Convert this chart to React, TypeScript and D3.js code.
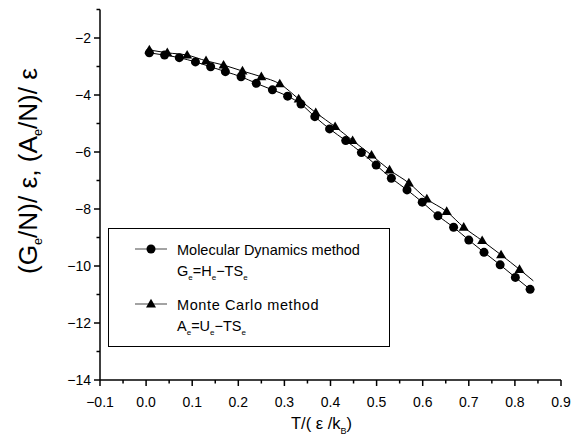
import React from "react";
import * as d3 from "d3";

// Molecular Dynamics (circles): T, G/N
const mdT = [0.007, 0.040, 0.072, 0.107, 0.140, 0.172, 0.206, 0.239, 0.274, 0.307, 0.336, 0.366, 0.398, 0.433, 0.467, 0.499, 0.532, 0.566, 0.599, 0.633, 0.667, 0.700, 0.733, 0.768, 0.801, 0.833];
const mdV = [-2.52, -2.60, -2.69, -2.84, -3.01, -3.18, -3.36, -3.59, -3.82, -4.04, -4.32, -4.76, -5.19, -5.60, -6.02, -6.46, -6.92, -7.33, -7.76, -8.24, -8.64, -9.09, -9.52, -9.96, -10.40, -10.82];
// Monte Carlo (triangles): T, A/N
const mcT = [0.007, 0.046, 0.089, 0.130, 0.168, 0.209, 0.250, 0.290, 0.331, 0.368, 0.410, 0.448, 0.489, 0.528, 0.570, 0.609, 0.652, 0.689, 0.729, 0.770, 0.810];
const mcV = [-2.42, -2.52, -2.60, -2.80, -2.95, -3.16, -3.36, -3.61, -4.14, -4.62, -5.11, -5.60, -6.11, -6.63, -7.09, -7.65, -8.09, -8.64, -9.11, -9.61, -10.12];
// end of the Monte Carlo curve (extends past the last marker)
const mcLineEndT = [0.840];
const mcLineEndV = [-10.52];

const xMajor = [-0.1, 0.0, 0.1, 0.2, 0.3, 0.4, 0.5, 0.6, 0.7, 0.8, 0.9];
const xMinor = [-0.05, 0.05, 0.15, 0.25, 0.35, 0.45, 0.55, 0.65, 0.75, 0.85];
const yMajor = [-14, -12, -10, -8, -6, -4, -2];
const yMinor = [-13, -11, -9, -7, -5, -3, -1];

const FONT = "'Liberation Sans', Arial, sans-serif";

export default function App() {
  const W = 583, H = 439;
  const x = d3.scaleLinear().domain([-0.1, 0.9]).range([100, 561]);
  const y = d3.scaleLinear().domain([-14, -1]).range([380, 9.5]);

  const md = mdT.map((t, i) => [t, mdV[i]] as [number, number]);
  const mc = mcT.map((t, i) => [t, mcV[i]] as [number, number]);
  const mcLine = mc.concat(mcLineEndT.map((t, i) => [t, mcLineEndV[i]] as [number, number]));

  const line = d3.line<[number, number]>().x(d => x(d[0])).y(d => y(d[1])).curve(d3.curveMonotoneX);
  const fmtX = d3.format(".1f");
  const fmtY = d3.format("d");

  const tri = (cx: number, cy: number, s = 10) => {
    const h = s * 0.866;
    return `M${cx},${cy - h * 0.6}L${cx + s / 2},${cy + h * 0.4}L${cx - s / 2},${cy + h * 0.4}Z`;
  };

  const sub = { fontSize: 8 } as const;

  return (
    <svg width={W} height={H} style={{ position: "absolute", left: 0, top: 0, background: "#fff" }} fontFamily={FONT}>
      <rect x={0} y={0} width={W} height={H} fill="#fff" />
      {/* axes */}
      <line x1={100} y1={y(-1)} x2={100} y2={380} stroke="#000" strokeWidth={1.5} />
      <line x1={100} y1={380} x2={561} y2={380} stroke="#000" strokeWidth={1.5} />
      {yMajor.map(v => (
        <g key={"ym" + v}>
          <line x1={94} x2={100} y1={y(v)} y2={y(v)} stroke="#000" strokeWidth={1.5} />
          <text x={91} y={y(v) + 5} textAnchor="end" fontSize={14}>{fmtY(v)}</text>
        </g>
      ))}
      {yMinor.map(v => (
        <line key={"yn" + v} x1={96.5} x2={100} y1={y(v)} y2={y(v)} stroke="#000" strokeWidth={1.5} />
      ))}
      {xMajor.map(v => (
        <g key={"xm" + v}>
          <line x1={x(v)} x2={x(v)} y1={380} y2={386} stroke="#000" strokeWidth={1.5} />
          <text x={x(v)} y={407} textAnchor="middle" fontSize={14}>{fmtX(v)}</text>
        </g>
      ))}
      {xMinor.map(v => (
        <line key={"xn" + v} x1={x(v)} x2={x(v)} y1={380} y2={383.5} stroke="#000" strokeWidth={1.5} />
      ))}

      {/* series */}
      <path d={line(md) || ""} fill="none" stroke="#000" strokeWidth={1} />
      <path d={line(mcLine) || ""} fill="none" stroke="#000" strokeWidth={1} />
      {md.map((d, i) => (
        <circle key={"c" + i} cx={x(d[0])} cy={y(d[1])} r={4.5} fill="#000" />
      ))}
      {mc.map((d, i) => (
        <path key={"t" + i} d={tri(x(d[0]), y(d[1]))} fill="#000" />
      ))}

      {/* legend */}
      <rect x={108.5} y={228.5} width={281} height={118} fill="#fff" stroke="#000" strokeWidth={1} />
      <line x1={135} x2={167} y1={249} y2={249} stroke="#666" strokeWidth={1.2} />
      <circle cx={151} cy={249} r={4.5} fill="#000" />
      <text x={177} y={255} fontSize={14.5}>Molecular Dynamics method</text>
      <text x={177} y={276} fontSize={14.5}>
        G<tspan dy={4} {...sub}>e</tspan><tspan dy={-4}>=H</tspan><tspan dy={4} {...sub}>e</tspan><tspan dy={-4}>−TS</tspan><tspan dy={4} {...sub}>e</tspan>
      </text>
      <line x1={135} x2={167} y1={304} y2={304} stroke="#666" strokeWidth={1.2} />
      <path d={tri(151, 304)} fill="#000" />
      <text x={177} y={310} fontSize={14.5} letterSpacing={0.6}>Monte Carlo method</text>
      <text x={177} y={331} fontSize={14.5}>
        A<tspan dy={4} {...sub}>e</tspan><tspan dy={-4}>=U</tspan><tspan dy={4} {...sub}>e</tspan><tspan dy={-4}>−TS</tspan><tspan dy={4} {...sub}>e</tspan>
      </text>

      {/* axis titles */}
      <text x={291} y={429} fontSize={16.5}>
        T/( ε /k<tspan dy={5} fontSize={9}>B</tspan><tspan dy={-5}>)</tspan>
      </text>
      <text transform="translate(37,274) rotate(-90)" fontSize={25} textLength={206} lengthAdjust="spacingAndGlyphs">
        (G<tspan dy={5} fontSize={12}>e</tspan><tspan dy={-5}>/N)/ ε, (A</tspan><tspan dy={5} fontSize={12}>e</tspan><tspan dy={-5}>/N)/ ε</tspan>
      </text>
    </svg>
  );
}
